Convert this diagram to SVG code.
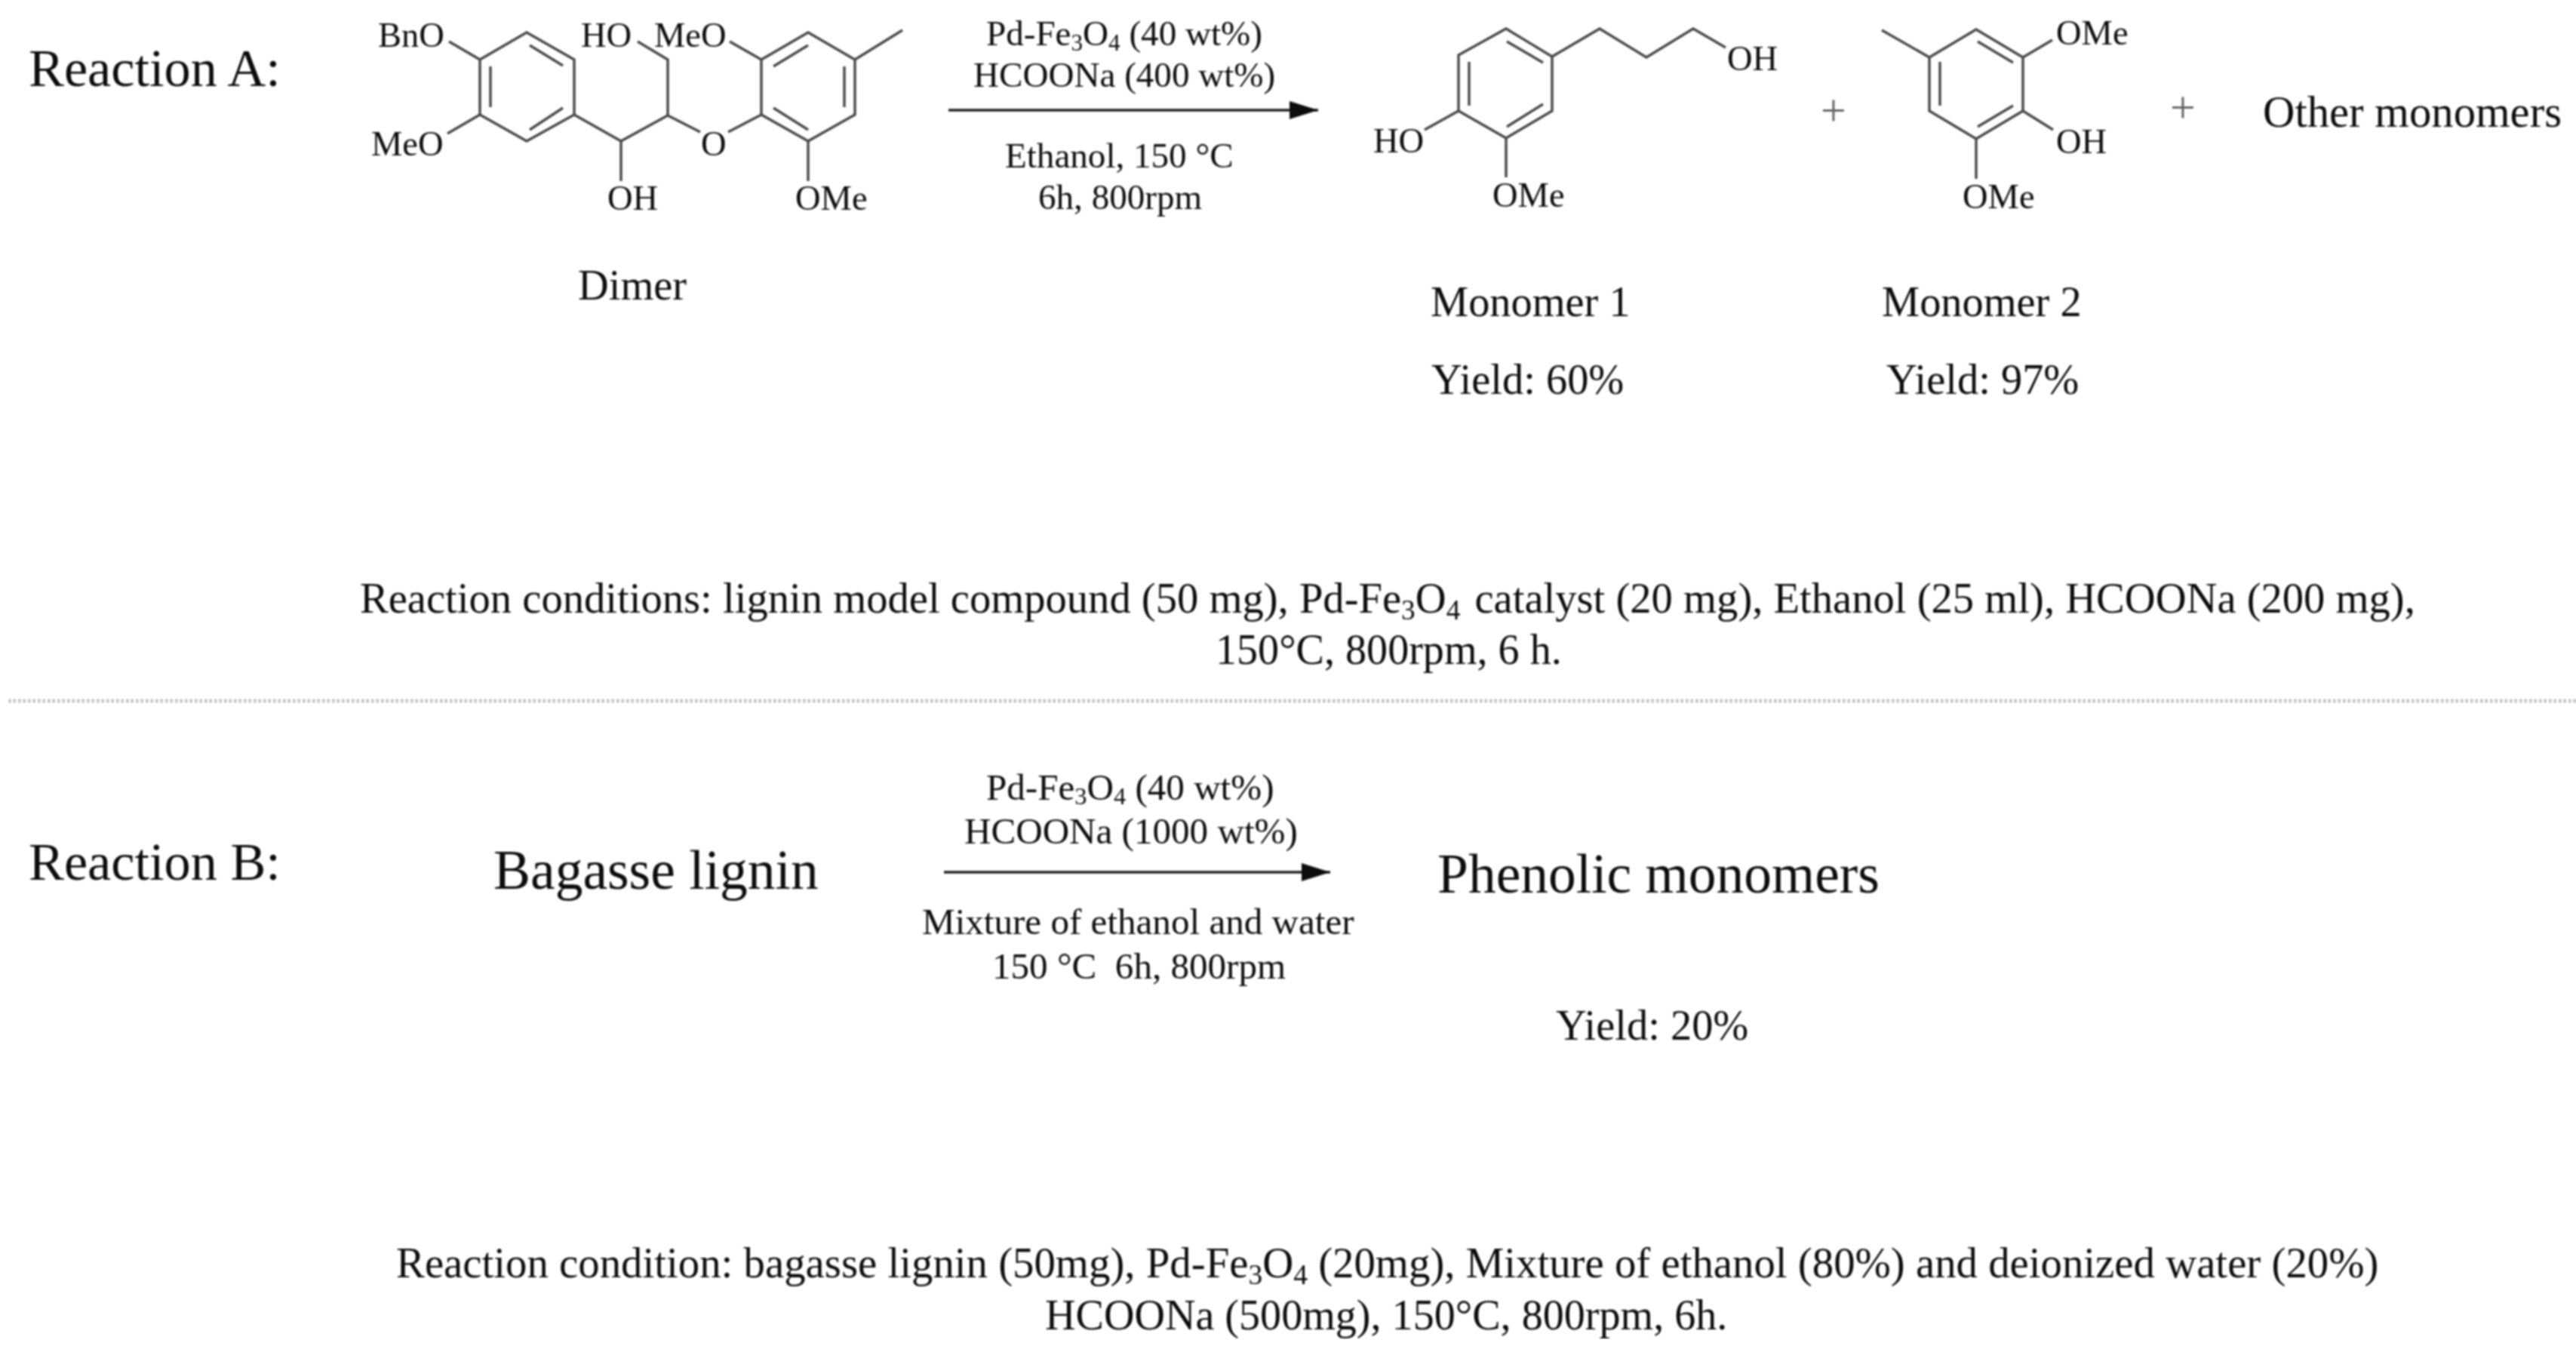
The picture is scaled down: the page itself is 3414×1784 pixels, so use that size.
<svg xmlns="http://www.w3.org/2000/svg" width="3414" height="1784" viewBox="0 0 3414 1784">
<style>
text{font-family:"Liberation Serif","Times New Roman",serif;fill:#111}
.a{font-size:46.5px}.c{font-size:47.1px}.d{font-size:49.1px}.h{font-size:70.3px}.m{font-size:56.4px}.o{font-size:58.7px}.b{font-size:73.5px}.r{font-size:56.6px}.r2{font-size:56.8px}.r3{font-size:56.1px}
.s{font-size:.66em}
.plus{font-size:60px;fill:#666}
.bond{fill:none;stroke:#484848;stroke-width:3.4;stroke-linejoin:miter;stroke-linecap:butt}
.arrow{fill:none;stroke:#222;stroke-width:3.5;marker-end:url(#head)}
.sep{stroke:#c2c2c2;stroke-width:5;stroke-dasharray:3.5 3}
</style>
<defs>
<marker id="head" markerUnits="userSpaceOnUse" markerWidth="40" markerHeight="26" refX="38" refY="12.5" orient="auto"><path d="M0 0.5L38 12.5L0 24.5z" fill="#111"/></marker>
<filter id="soft" x="0" y="0" width="100%" height="100%"><feGaussianBlur stdDeviation="0.8"/></filter>
</defs>
<rect width="3414" height="1784" fill="#fff"/>
<g id="figure" filter="url(#soft)">
<g id="title-a"><text class="h" x="38" y="114">Reaction A:</text></g>
<g id="dimer">
<path class="bond" d="M698 43L761 79V152L698 187L636 152V79Z"/>
<path class="bond" d="M702 60L746 87M650 88V142M702 172L746 143"/>
<path class="bond" d="M636 79L595 55M636 152L593 177M761 152L823 187L885 153V79L845 55M823 187V240M885 153L928 175M965 175L1009 152"/>
<path class="bond" d="M1009 79L1071 43L1133 79V152L1071 187L1009 152Z"/>
<path class="bond" d="M1025 88L1071 60M1119 88V142M1025 143L1071 172"/>
<path class="bond" d="M967 55L1009 79M1133 79L1196 40M1071 187V240"/>
<text class="a" x="501" y="62">BnO</text>
<text class="a" x="492" y="206">MeO</text>
<text class="a" x="770" y="62">HO</text>
<text class="a" x="867" y="62">MeO</text>
<text class="a" x="805" y="278">OH</text>
<text class="a" x="929" y="206">O</text>
<text class="a" x="1054" y="278">OMe</text>
<text class="m" x="766" y="397">Dimer</text>
</g>
<g id="monomer-1">
<path class="bond" d="M1996 38L2057 75V147L1996 183L1933 147V73Z"/>
<path class="bond" d="M1997 55L2045 83M1947 82V140M1997 168L2045 138"/>
<path class="bond" d="M2057 75L2120 38L2182 76L2244 38L2287 63M1933 147L1888 172M1996 183V235"/>
<text class="a" x="2289" y="93">OH</text>
<text class="a" x="1820" y="202">HO</text>
<text class="a" x="1978" y="274">OMe</text>
<text class="m" x="1896" y="419">Monomer 1</text>
<text class="m" x="1897" y="522">Yield: 60%</text>
</g>
<g id="monomer-2">
<path class="bond" d="M2557 76L2619 39L2681 76V147L2619 184L2557 147Z"/>
<path class="bond" d="M2621 55L2668 83M2571 82V140M2621 168L2668 140"/>
<path class="bond" d="M2557 76L2494 40M2681 76L2720 53M2681 147L2721 172M2619 184V237"/>
<text class="a" x="2725" y="59">OMe</text>
<text class="a" x="2725" y="203">OH</text>
<text class="a" x="2601" y="276">OMe</text>
<text class="m" x="2494" y="419">Monomer 2</text>
<text class="m" x="2500" y="522">Yield: 97%</text>
</g>
<g id="plus-signs">
<text class="plus" x="2430" y="166" text-anchor="middle">+</text>
<text class="plus" x="2893" y="162" text-anchor="middle">+</text>
</g>
<g id="other-monomers"><text class="o" x="2999" y="168">Other monomers</text></g>
<g id="conditions-a">
<text class="c" x="1307" y="60">Pd-Fe<tspan class="s" dy="7">3</tspan><tspan dy="-7">O</tspan><tspan class="s" dy="7">4</tspan><tspan dy="-7"> (40 wt%)</tspan></text>
<text class="c" x="1290" y="115">HCOONa (400 wt%)</text>
<text class="c" x="1332" y="222">Ethanol, 150 °C</text>
<text class="c" x="1376" y="277">6h, 800rpm</text>
</g>
<g id="note-a">
<text class="r" x="477" y="812">Reaction conditions: lignin model compound (50 mg), Pd-Fe<tspan class="s" dy="9">3</tspan><tspan dy="-9">O</tspan><tspan class="s" dy="9">4</tspan><tspan dy="-9" dx="5"> catalyst (20 mg), Ethanol (25 ml), HCOONa (200 mg),</tspan></text>
<text class="r3" x="1611" y="880">150°C, 800rpm, 6 h.</text>
</g>
<g id="title-b"><text class="h" x="38" y="1166">Reaction B:</text></g>
<g id="bagasse-lignin"><text class="b" x="654" y="1178">Bagasse lignin</text></g>
<g id="phenolic-monomers">
<text class="b" x="1905" y="1183">Phenolic monomers</text>
<text class="m" x="2062" y="1378">Yield: 20%</text>
</g>
<g id="conditions-b">
<text class="d" x="1307" y="1060">Pd-Fe<tspan class="s" dy="6">3</tspan><tspan dy="-6">O</tspan><tspan class="s" dy="6">4</tspan><tspan dy="-6"> (40 wt%)</tspan></text>
<text class="d" x="1278" y="1118">HCOONa (1000 wt%)</text>
<text class="d" x="1222" y="1238">Mixture of ethanol and water</text>
<text class="d" x="1315" y="1297" xml:space="preserve">150 °C  6h, 800rpm</text>
</g>
<g id="note-b">
<text class="r2" x="525" y="1693">Reaction condition: bagasse lignin (50mg), Pd-Fe<tspan class="s" dy="9">3</tspan><tspan dy="-9">O</tspan><tspan class="s" dy="9">4</tspan><tspan dy="-9"> (20mg), Mixture of ethanol (80%) and deionized water (20%)</tspan></text>
<text class="r3" x="1385" y="1762">HCOONa (500mg), 150°C, 800rpm, 6h.</text>
</g>
<g id="connectors">
<line class="arrow" x1="1257" y1="146" x2="1747" y2="146"/>
<line class="arrow" x1="1251" y1="1156" x2="1763" y2="1156"/>
<line class="sep" x1="11" y1="929" x2="3414" y2="929"/>
</g>
</g>
</svg>
